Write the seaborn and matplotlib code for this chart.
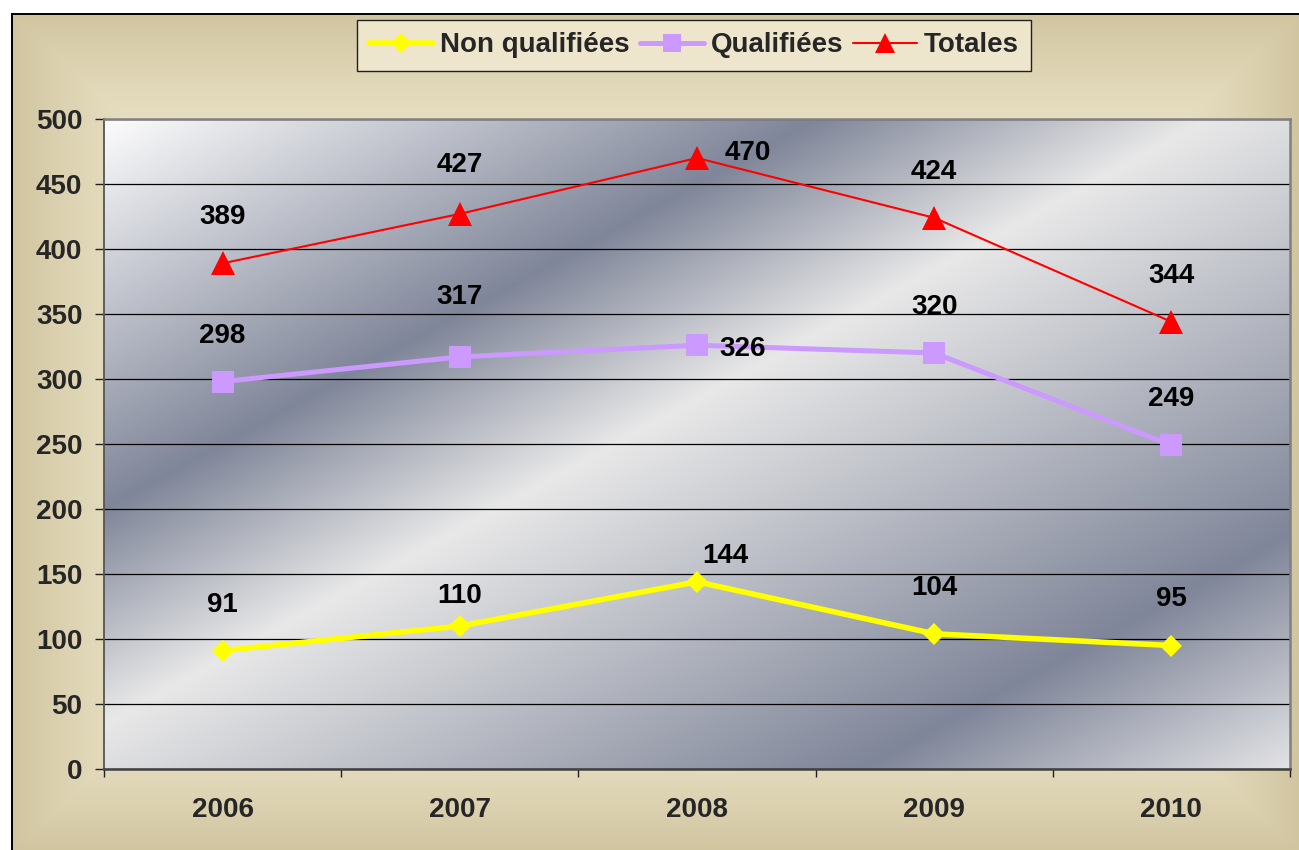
import numpy as np
import pandas as pd
import matplotlib
matplotlib.use("Agg")
import matplotlib.pyplot as plt
import seaborn as sns

# ---- data -------------------------------------------------------------
years = [2006, 2007, 2008, 2009, 2010]
non_qualifiees = [91, 110, 144, 104, 95]
qualifiees = [298, 317, 326, 320, 249]
totales = [389, 427, 470, 424, 344]
series_names = ["Non qualifiées", "Qualifiées", "Totales"]
y_ticks = list(range(0, 501, 50))

# ---- styling ----------------------------------------------------------
sns.set_style("white")
plt.rcParams["font.family"] = ["Liberation Sans", "DejaVu Sans"]
plt.rcParams["font.weight"] = "bold"

styles = {
    "Non qualifiées": dict(color="#ffff00", marker="D", markersize=11.7, linewidth=4.0),
    "Qualifiées": dict(color="#cc99ff", marker="s", markersize=15.5, linewidth=3.6),
    "Totales": dict(color="#ff0000", marker="^", markersize=17, linewidth=1.5),
}
# label offsets in pixels (default: centred above the point)
default_offset = (0, 46)
label_offsets = {
    ("Totales", 2007): (0, 49),
    ("Totales", 2008): (51, 5),
    ("Qualifiées", 2007): (0, 60),
    ("Qualifiées", 2008): (46, -4),
    ("Non qualifiées", 2007): (0, 30),
    ("Non qualifiées", 2008): (28, 26),
}

df = pd.DataFrame({
    "Année": years * 3,
    "Valeur": non_qualifiees + qualifiees + totales,
    "Série": [n for n in series_names for _ in years],
})

W_PX, H_PX = 1299, 850
fig = plt.figure(figsize=(W_PX / 100, H_PX / 100), dpi=100)
fig.patch.set_facecolor("white")

# ---- beige chart-area background ---------------------------------------
bx0, by_top = 12, 14
bg_w, bg_h = W_PX - bx0, H_PX - by_top
bg_ax = fig.add_axes([bx0 / W_PX, 0, bg_w / W_PX, bg_h / H_PX], zorder=-5)
xx = np.arange(bg_w)[None, :].repeat(bg_h, 0)
yy = np.arange(bg_h)[:, None].repeat(bg_w, 1)
dx = np.minimum(xx, bg_w - xx)
dy = np.minimum(yy, bg_h - yy)
fx = 1 - np.clip(dx / 120.0, 0, 1)
fy = 1 - np.clip(dy / 110.0, 0, 1)
f = np.maximum(fx, fy) ** 1.3
light = np.array([0.902, 0.871, 0.757])
dark = np.array([0.820, 0.773, 0.627])
bg_img = light[None, None, :] * (1 - f[..., None]) + dark[None, None, :] * f[..., None]
bg_ax.imshow(bg_img, extent=(0, 1, 0, 1), aspect="auto", origin="upper")
bg_ax.set_xlim(0, 1)
bg_ax.set_ylim(0, 1)
bg_ax.set_xticks([])
bg_ax.set_yticks([])
for side in ("right", "bottom"):
    bg_ax.spines[side].set_visible(False)
for side in ("left", "top"):
    bg_ax.spines[side].set_color("black")
    bg_ax.spines[side].set_linewidth(1.4)

# ---- plot area ---------------------------------------------------------
px0, px1, py0, py1 = 104, 1290, 119, 769
ax = fig.add_axes([px0 / W_PX, (H_PX - py1) / H_PX, (px1 - px0) / W_PX, (py1 - py0) / H_PX])

# diagonal silver gradient in the plot area
gw, gh = px1 - px0, py1 - py0
u = np.linspace(0, 1, gw)[None, :]
v = np.linspace(0, 1, gh)[:, None]
t = (u + v) / 2.0
stops = [0.0, 0.30, 0.465, 0.82, 1.0]
cols = np.array([
    [0.99, 0.99, 0.99],
    [0.50, 0.525, 0.60],
    [0.91, 0.91, 0.91],
    [0.50, 0.525, 0.60],
    [0.89, 0.89, 0.90],
])
plot_img = np.stack([np.interp(t, stops, cols[:, c]) for c in range(3)], axis=-1)
ax.imshow(plot_img, extent=(0, 1, 0, 1), transform=ax.transAxes,
          aspect="auto", origin="upper", zorder=0)

for name in series_names:
    st = styles[name]
    sns.lineplot(
        data=df[df["Série"] == name], x="Année", y="Valeur", ax=ax,
        color=st["color"], marker=st["marker"], markersize=st["markersize"],
        linewidth=st["linewidth"], markeredgewidth=0, label=name, zorder=3,
    )

values = {"Non qualifiées": non_qualifiees, "Qualifiées": qualifiees, "Totales": totales}
for name in series_names:
    for yr, val in zip(years, values[name]):
        off = label_offsets.get((name, yr), default_offset)
        ax.annotate(str(val), xy=(yr, val), xytext=off, textcoords="offset pixels",
                    ha="center", va="center", fontsize=20, fontweight="bold",
                    color="black", zorder=4)

ax.set_xlim(years[0] - 0.5, years[-1] + 0.5)
ax.set_ylim(0, 500)
ax.set_yticks(y_ticks)
ax.set_yticklabels([str(v) for v in y_ticks])
ax.set_xticks([y - 0.5 for y in years] + [years[-1] + 0.5])
ax.set_xticklabels([])
ax.set_xticks(years, minor=True)
ax.set_xticklabels([str(y) for y in years], minor=True)
ax.set_xlabel("")
ax.set_ylabel("")

ax.yaxis.grid(True, color="black", linewidth=0.9)
ax.xaxis.grid(False)
ax.set_axisbelow("line")

ax.tick_params(axis="y", which="major", direction="out", length=6.5, width=1,
               color="#202020", pad=9, labelsize=20, left=True)
ax.tick_params(axis="x", which="major", direction="out", length=6, width=1,
               color="#202020", bottom=True)
ax.tick_params(axis="x", which="minor", length=0, pad=20, labelsize=20)
for lab in ax.get_yticklabels() + ax.get_xticklabels(minor=True):
    lab.set_fontweight("bold")

ax.spines["top"].set_color("#808080")
ax.spines["right"].set_color("#808080")
ax.spines["top"].set_linewidth(1.8)
ax.spines["right"].set_linewidth(1.8)
ax.spines["left"].set_color("#555555")
ax.spines["left"].set_linewidth(1.3)
ax.spines["bottom"].set_color("#404040")
ax.spines["bottom"].set_linewidth(1.8)

handles, labels = ax.get_legend_handles_labels()
ax.get_legend().remove()
leg = fig.legend(handles, labels, loc="center", ncol=3,
                 bbox_to_anchor=(694 / W_PX, 1 - 45.5 / H_PX),
                 prop={"weight": "bold", "size": 20}, frameon=True, fancybox=False,
                 handlelength=2.3, handletextpad=0.25, columnspacing=0.35,
                 borderpad=0.45, borderaxespad=0, markerscale=0.85)
leg.get_frame().set_facecolor("#eee6cc")
leg.get_frame().set_edgecolor("#202020")
leg.get_frame().set_linewidth(1.0)
leg.get_frame().set_alpha(1)

fig.savefig("out.png", dpi=100)
